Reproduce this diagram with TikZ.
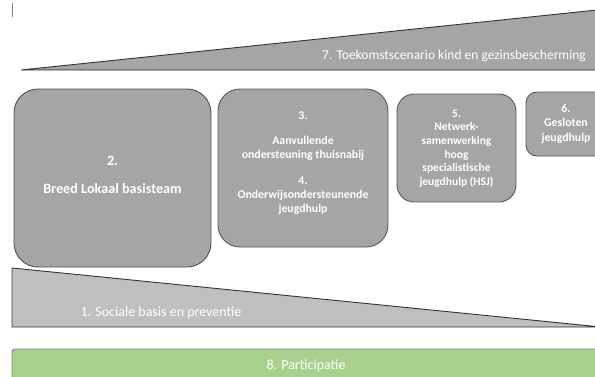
\documentclass[tikz,border=0pt]{standalone}
\usepackage{fontspec}
\setmainfont{Carlito}
\definecolor{boxgray}{HTML}{A5A5A5}
\definecolor{lightgray2}{HTML}{BFBFBF}
\definecolor{edgegray}{HTML}{595959}
\definecolor{edgeblue}{HTML}{44546A}
\definecolor{partgreen}{HTML}{A9D18E}
\definecolor{bargray}{HTML}{7F7F7F}
\tikzset{
  tri/.style={draw=black!80, line width=0.9pt, line join=miter},
  stagebox/.style={draw=edgegray, line width=0.9pt, fill=boxgray, rounded corners=#1},
  stagebox/.default=20pt,
  boxtext/.style={text=white, font=\bfseries\fontsize{11.8}{14}\selectfont, align=center, inner sep=0pt},
  bandtext/.style={text=white, font=\fontsize{13.5}{15}\selectfont, inner sep=0pt},
}
\begin{document}
\begin{tikzpicture}[x=1pt,y=-1pt]
\useasboundingbox (0,0) rectangle (595,376);
\begin{scope}
\clip (0,0) rectangle (595,376);
% cursor mark
\draw[gray, line width=0.6pt] (12,3) -- (12,17);
% 7. top wedge
\draw[tri, fill=boxgray] (21,70) -- (600,9.7) -- (600,70) -- cycle;
\node[bandtext, anchor=base] (t7) at (454,59) {7. Toekomstscenario kind en gezinsbescherming};
% 1. bottom wedge
\draw[tri, fill=lightgray2] (12,268) -- (596,326.5) -- (600,326.5) -- (600,327) -- (12,327) -- cycle;
\node[bandtext, font=\fontsize{14}{16}\selectfont, anchor=base] (t1) at (161,316.5) {1. Sociale basis en preventie};
% 8. participatie
\draw[draw=bargray, line width=0.9pt, fill=partgreen, rounded corners=3pt] (12,349) rectangle (605,390);
\node[bandtext, font=\fontsize{14}{16}\selectfont, anchor=base] (t8) at (306,369) {8. Participatie};
% boxes
\draw[stagebox=24pt, draw=edgeblue] (14,89) rectangle (211,267);
\node[boxtext, font=\bfseries\fontsize{14.2}{28}\selectfont] (b2) at (112.5,175) {2.\\Breed Lokaal basisteam};
\draw[stagebox=22pt] (218,89) rectangle (388,247);
\node[boxtext] (b3) at (303,163.5) {3.\\[11pt]Aanvullende\\ondersteuning thuisnabij\\[12pt]4.\\Onderwijsondersteunende\\jeugdhulp};
\draw[stagebox=17pt] (397,94) rectangle (516,202);
\node[boxtext, font=\bfseries\fontsize{11.5}{13.7}\selectfont] (b5) at (456.5,148.5) {5.\\Netwerk-\\samenwerking\\hoog\\specialistische\\jeugdhulp (HSJ)};
\draw[stagebox=11pt] (526,92) rectangle (610,156);
\node[boxtext, font=\bfseries\fontsize{11.8}{14.5}\selectfont] (b6) at (566,123.5) {6.\\Gesloten\\jeugdhulp};
\end{scope}
\end{tikzpicture}
\end{document}
